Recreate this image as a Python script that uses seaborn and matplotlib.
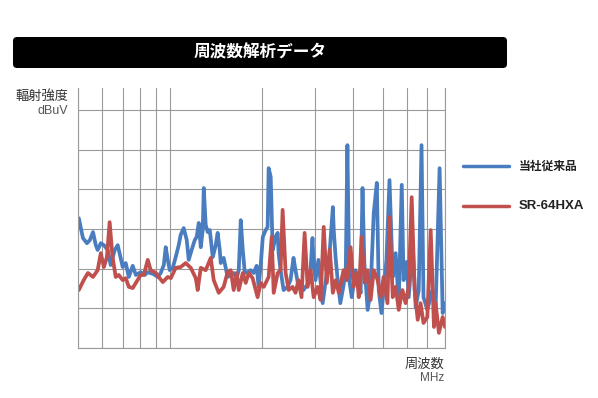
import numpy as np
import pandas as pd
import matplotlib
matplotlib.use("Agg")
import matplotlib.pyplot as plt
import seaborn as sns
from matplotlib.patches import FancyBboxPatch
from matplotlib.lines import Line2D

sns.set_theme(style="white")
plt.rcParams['font.family'] = ['Noto Sans CJK JP', 'DejaVu Sans']

# Data (frequency in MHz, level in arbitrary dBuV units)
blue_freq = [50.3, 51.9, 53.5, 54.7, 56, 57.2, 58, 59.4, 60.8, 62.6, 64, 66, 67.5, 69, 70.1,
             71.7, 73.4, 75.6, 77.4, 80.3, 82.8, 84.7, 88.6, 91.3, 93.4, 95.6, 97, 98.5, 100,
             102.3, 104.6, 107, 108.6, 111.1, 113.7, 115.4, 118, 120.8, 122.6, 124.5, 126.4,
             128.3, 129.3, 131.2, 133.2, 135.3, 138.4, 141.5, 143.6, 145.9, 147, 150.3, 154.8,
             158.5, 162.1, 165.8, 168.4, 171, 173.6, 176.3, 180.3, 184.3, 188.5, 192.8, 195.7,
             198.8, 202, 206.4, 209.5, 211.1, 214.4, 217.6, 222.6, 226, 227.6, 231, 236.3,
             243.6, 249, 254.7, 258.6, 264.5, 274.6, 285, 289.6, 294, 296, 300.7, 307.5, 317.5,
             325, 332.7, 342.9, 345.2, 350, 354.8, 362.8, 371, 378, 382.7, 388, 395.6, 407,
             418, 423, 429, 435, 446, 456, 467, 478, 485, 495, 503, 514, 526, 539, 551, 564,
             577, 585, 599, 608, 627, 641, 656, 670, 680, 700, 727, 745, 768, 786, 800]
blue_level = [32.7, 27.7, 26.4, 27.2, 29.2, 25.9, 24.7, 26.4, 25.9, 24.7, 20.9, 24.7, 25.9,
              22.7, 20.4, 21.4, 17.9, 20.7, 18.4, 19.1, 18.4, 19.1, 18.6, 17.9, 18.9, 20.9,
              25.4, 22.2, 19.6, 20.2, 22.9, 25.9, 28.5, 30.2, 27.2, 22.2, 24.7, 27.2, 28,
              31.5, 25.4, 29.7, 40.3, 31, 29.2, 29.7, 22.9, 25.9, 29, 24.7, 21.4, 22.7, 17.9,
              18.4, 18.9, 17.6, 19.6, 32.2, 24.7, 18.9, 19.1, 19.6, 18.9, 20.7, 15.4, 20.9,
              28, 29.7, 30.5, 45.3, 43.1, 24.7, 28, 29, 23.9, 19.6, 14.6, 15.4, 17.1, 22.7,
              19.6, 15.4, 14.6, 16.4, 19.6, 27.7, 22.9, 17.1, 22.2, 11.3, 17.1, 21.4, 35.5,
              29.7, 22.9, 17.9, 11.3, 15.4, 19.6, 51.1, 17.1, 12.8, 19.6, 15.9, 13.9, 40.3,
              21.4, 9.6, 14.6, 34, 41.6, 14.6, 8.8, 14.6, 22.2, 42.3, 17.9, 23.9, 11.3, 41.1,
              17.1, 21.7, 12.8, 25.4, 10.3, 14.6, 51.1, 12.8, 9.6, 14.6, 9.6, 45.3, 8.8, 11.3]

red_freq = [50.3, 52.2, 53.9, 56, 58, 59.4, 60.8, 62.2, 63.5, 64.9, 66.5, 68, 70.1, 71.7, 73.4,
            75.6, 77.4, 80.3, 82.2, 84.7, 86.6, 90, 92, 94.9, 98.5, 100.8, 104.6, 108.6, 112.8,
            117.2, 121.7, 123.5, 126.4, 131.2, 136.3, 139.4, 144.8, 150.3, 154.8, 158.5, 162.1,
            165.8, 168.4, 173.6, 177.5, 181.6, 187, 194.2, 198.8, 203.5, 211.1, 216, 219.3,
            226, 231, 234.6, 240, 245.6, 252.9, 258.6, 264.5, 270.6, 277, 283.4, 290, 296.6,
            305.3, 312.6, 320, 327.5, 335, 342.9, 350.6, 358.6, 371.8, 380.5, 392, 401, 410.5,
            417, 426, 436, 446, 456, 467, 481, 492, 503, 518, 526, 539, 551, 564, 580, 594,
            608, 622, 636, 651, 665, 680, 700, 718, 736, 745, 764, 786, 800]
red_level = [14.6, 17.1, 18.9, 17.9, 19.6, 23.9, 20.4, 22.9, 31.7, 22.9, 17.9, 18.4, 17.1,
             17.6, 15.4, 15.1, 16.4, 18.4, 18.4, 22.2, 19.6, 18.9, 17.9, 16.6, 17.9, 17.6,
             20.2, 20.4, 21.4, 20.2, 17.6, 14.6, 20.2, 19.6, 22.7, 17.1, 13.9, 15.4, 19.1,
             19.6, 14.6, 18.9, 14.6, 18.9, 16.4, 18.9, 17.6, 12.8, 16.4, 15.4, 17.9, 28,
             13.9, 18.9, 19.6, 34.8, 18.9, 14.6, 15.4, 13.9, 17.1, 12.8, 29, 15.4, 19.6, 12.8,
             15.4, 12.1, 30.5, 16.4, 24.7, 13.9, 17.1, 13.9, 19.6, 17.1, 25.4, 15.4, 18.9,
             12.8, 28, 16.4, 19.6, 12.1, 19.6, 17.1, 12.8, 17.9, 11.3, 33, 12.8, 15.4, 9.6,
             14.6, 11.3, 15.4, 38, 14.6, 7.1, 11.3, 6.3, 7.8, 29.7, 5.3, 11.3, 3.8, 7.8, 5.3]

series_names = ['当社従来品', 'SR-64HXA']
series_colors = ['#4a7dbf', '#c0504d']

x_grid = [50, 60, 70, 80, 90, 100, 200, 300, 400, 500, 600, 700, 800]
y_grid = [0, 10, 20, 30, 40, 50, 60]

df = pd.concat([
    pd.DataFrame({'freq': blue_freq, 'level': blue_level, 'series': series_names[0]}),
    pd.DataFrame({'freq': red_freq, 'level': red_level, 'series': series_names[1]}),
])

W, H = 598, 398
fig = plt.figure(figsize=(W / 100, H / 100), dpi=100)
ax = fig.add_axes([78 / W, 1 - 348 / H, (445 - 78) / W, (348 - 88) / H])

sns.lineplot(data=df, x='freq', y='level', hue='series', palette=series_colors,
             linewidth=2.7, ax=ax, legend=False, sort=False)

ax.set_xscale('log')
ax.set_xlim(50, 800)
ax.set_ylim(0, 65.5)
ax.set_xticks(x_grid)
ax.set_yticks(y_grid)
ax.xaxis.set_minor_locator(matplotlib.ticker.NullLocator())
ax.set_xticklabels([])
ax.set_yticklabels([])
ax.tick_params(length=0)
ax.set_xlabel('')
ax.set_ylabel('')
ax.grid(True, color='#9a9a9a', linewidth=0.8)
ax.set_axisbelow(True)
for side in ['left', 'bottom', 'right']:
    ax.spines[side].set_color('#9a9a9a')
    ax.spines[side].set_linewidth(0.8)
ax.spines['top'].set_visible(False)

# Title bar
bar = FancyBboxPatch((13 / 100, (H - 68) / 100), 494 / 100, 31 / 100,
                     boxstyle="round,pad=0,rounding_size=0.04",
                     transform=fig.dpi_scale_trans, facecolor='black', edgecolor='none')
fig.patches.append(bar)
fig.text(260 / W, 1 - 52.5 / H, '周波数解析データ', color='white', fontsize=12,
         fontweight='bold', ha='center', va='center')

# Axis labels
fig.text(68 / W, 1 - 96 / H, '輻射強度', color='#333333', fontsize=9.5,
         ha='right', va='center')
fig.text(68 / W, 1 - 111 / H, 'dBuV', color='#555555', fontsize=9,
         family=['Liberation Sans', 'DejaVu Sans'], ha='right', va='center')
fig.text(444 / W, 1 - 364 / H, '周波数', color='#333333', fontsize=9.5,
         ha='right', va='center')
fig.text(444 / W, 1 - 378 / H, 'MHz', color='#555555', fontsize=8.5,
         family=['Liberation Sans', 'DejaVu Sans'], ha='right', va='center')

# Legend
legend_y = [166, 206]
legend_fonts = [['Noto Sans CJK JP', 'DejaVu Sans'], ['Liberation Sans', 'DejaVu Sans']]
legend_sizes = [8.5, 9.5]
for name, color, yy, fam, fs in zip(series_names, series_colors, legend_y,
                                    legend_fonts, legend_sizes):
    fig.add_artist(Line2D([463 / W, 509 / W], [1 - yy / H, 1 - yy / H],
                          color=color, linewidth=2.5, transform=fig.transFigure))
    fig.text(519 / W, 1 - yy / H, name, color='#222222', fontsize=fs, family=fam,
             fontweight='bold', ha='left', va='center')

fig.savefig('out.png', dpi=100)
